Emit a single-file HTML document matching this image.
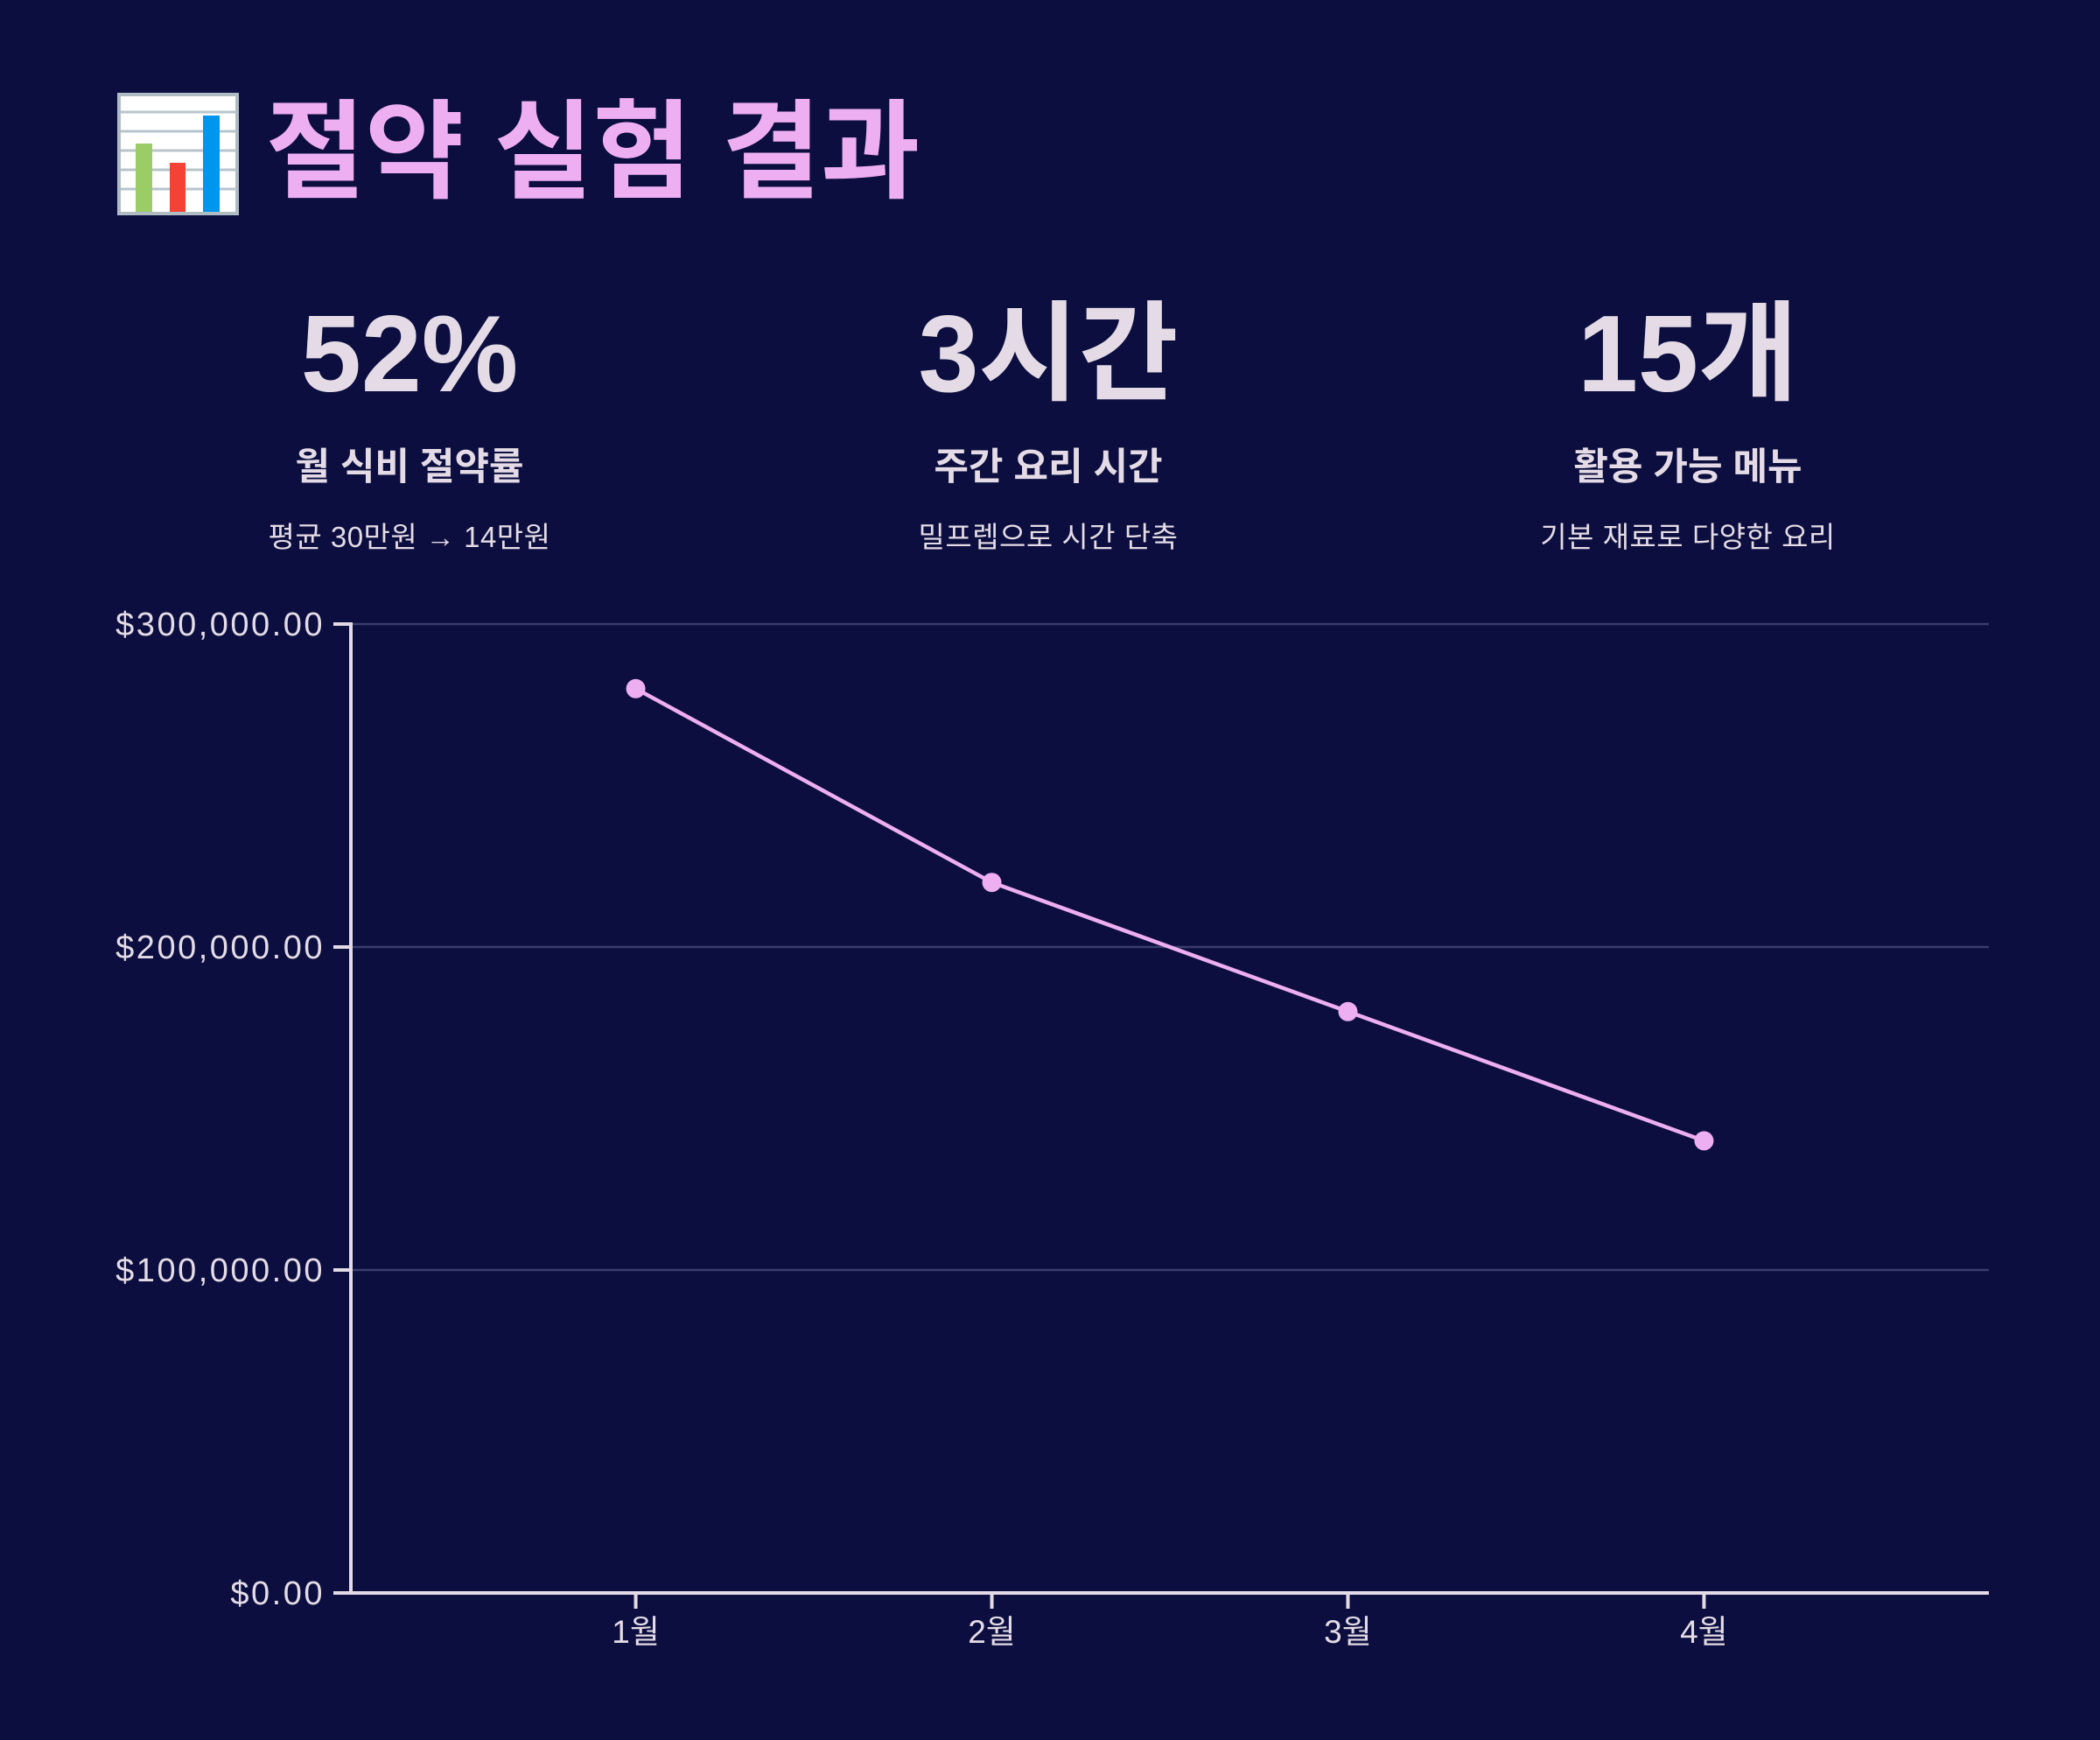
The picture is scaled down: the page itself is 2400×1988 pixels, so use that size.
<!DOCTYPE html>
<html><head><meta charset="utf-8"><style>
html,body{margin:0;padding:0;}
body{width:2400px;height:1988px;background:#0b0e3e;overflow:hidden;position:relative;font-family:"Liberation Sans","Noto Sans CJK KR",sans-serif;color:#e4dbe6;}
.title{position:absolute;left:304px;top:100px;font-size:123px;font-weight:bold;color:#eeaef2;line-height:150px;white-space:nowrap;font-family:"Liberation Sans","Noto Sans CJK KR",sans-serif;}
.num{position:absolute;width:700px;text-align:center;top:340px;font-size:124px;font-weight:bold;line-height:130px;letter-spacing:0px;}
.lab{position:absolute;width:700px;text-align:center;top:508px;font-size:43px;font-weight:bold;line-height:52px;}
.sub{position:absolute;width:700px;text-align:center;top:592px;font-size:33px;line-height:44px;letter-spacing:0.5px;}
svg{position:absolute;left:0;top:0;}
</style></head><body>
<svg width="300" height="260" style="left:0;top:0">
<rect x="136" y="108" width="135" height="136" fill="#fff" stroke="#b0bcc4" stroke-width="4"/>
<g stroke="#b8c4cc" stroke-width="3"><line x1="138" y1="128" x2="270" y2="128"/><line x1="138" y1="150" x2="270" y2="150"/><line x1="138" y1="172" x2="270" y2="172"/><line x1="138" y1="194" x2="270" y2="194"/><line x1="138" y1="216" x2="270" y2="216"/></g>
<rect x="155" y="164" width="19" height="78" fill="#9ccc65"/>
<rect x="194" y="186" width="18" height="56" fill="#f44336"/>
<rect x="232" y="132" width="19" height="110" fill="#0096ee"/>
</svg>
<div class="title">절약 실험 결과</div>

<div class="num" style="left:118px">52%</div>
<div class="lab" style="left:118px">월 식비 절약률</div>
<div class="sub" style="left:118px">평균 30만원 → 14만원</div>

<div class="num" style="left:848px">3시간</div>
<div class="lab" style="left:848px">주간 요리 시간</div>
<div class="sub" style="left:848px">밀프렙으로 시간 단축</div>

<div class="num" style="left:1579px">15개</div>
<div class="lab" style="left:1579px">활용 가능 메뉴</div>
<div class="sub" style="left:1579px">기본 재료로 다양한 요리</div>

<svg id="chart" width="2400" height="1988"></svg>
<script>
const categories = ["1월","2월","3월","4월"];
const values = [280000, 220000, 180000, 140000];
const yTicks = [0, 100000, 200000, 300000];
const yTickLabels = ["$0.00","$100,000.00","$200,000.00","$300,000.00"];

const NS="http://www.w3.org/2000/svg";
const svg=document.getElementById('chart');
const L=401,R=2273,T=713,B=1820,yMax=300000;
const pad=0.8, step=(R-L)/(categories.length-1+2*pad);
function x(i){return L+step*(pad+i);}
function y(v){return B-(v/yMax)*(B-T);}
function mk(tag,attrs){const e=document.createElementNS(NS,tag);for(const k in attrs)e.setAttribute(k,attrs[k]);svg.appendChild(e);return e;}

yTicks.forEach((t,i)=>{
  if(t>0){const g=mk('line',{x1:L,x2:R,y1:y(t),y2:y(t),stroke:'#3b3c6e','stroke-width':2.5});
  
  }
  const tk=mk('line',{x1:L-20,x2:L,y1:y(t),y2:y(t),stroke:'#e4dbe6','stroke-width':4});
  
  
  const tx=mk('text',{x:L-30,y:y(t)+13,'text-anchor':'end','font-size':38,'letter-spacing':2.5,fill:'#e4dbe6','font-family':'Liberation Sans, sans-serif'});
  tx.textContent=yTickLabels[i];
  
  
});
const ya=mk('line',{x1:L,x2:L,y1:T-2,y2:B+2,stroke:'#e4dbe6','stroke-width':4});


const xa=mk('line',{x1:L-2,x2:R,y1:B,y2:B,stroke:'#e4dbe6','stroke-width':4});


categories.forEach((c,i)=>{
  const tk=mk('line',{x1:x(i),x2:x(i),y1:B,y2:B+18,stroke:'#e4dbe6','stroke-width':4});
  
  
  const tx=mk('text',{x:x(i),y:B+57,'text-anchor':'middle','font-size':37,fill:'#e4dbe6','font-family':'Liberation Sans, Noto Sans CJK KR, sans-serif'});
  tx.textContent=c;
  
  
});
const pts=values.map((v,i)=>x(i)+','+y(v)).join(' ');
const line=mk('polyline',{points:pts,fill:'none',stroke:'#eeaef2','stroke-width':4.5});


values.forEach((v,i)=>{
  const c=mk('circle',{cx:x(i),cy:y(v),r:11,fill:'#eeaef2'});
  
  
});
</script>
</body></html>
